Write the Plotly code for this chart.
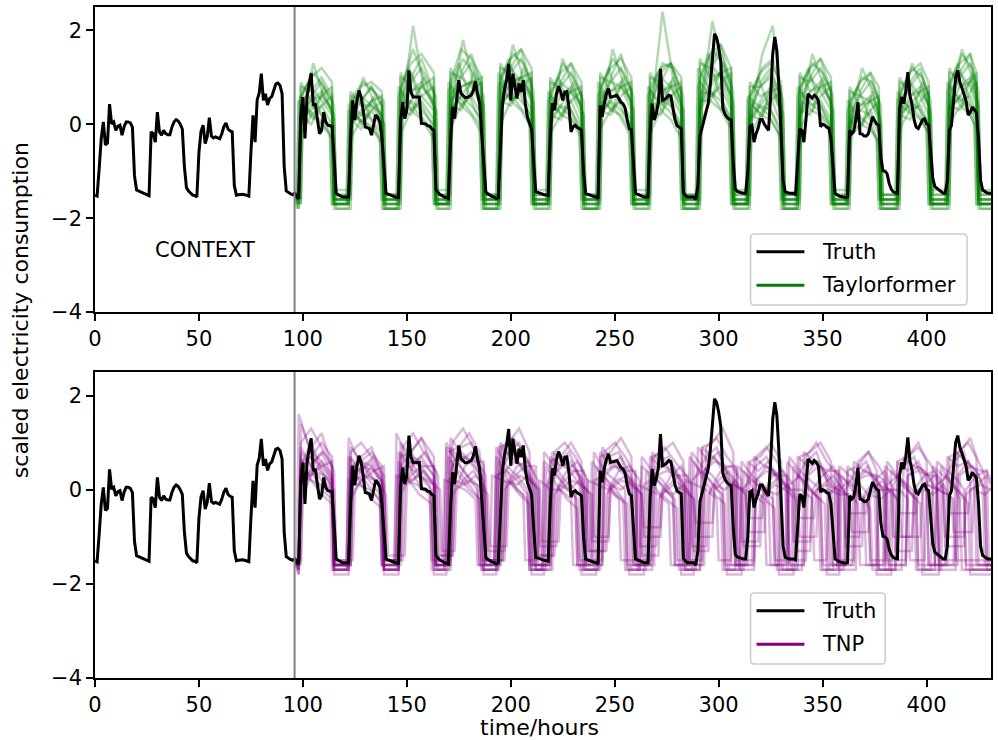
import plotly.graph_objects as go

# ---------------- data ----------------
hours = list(range(432))

truth_by_day = [
    [-1.51,-1.53,-0.95,-0.30,0.05,-0.44,-0.40,0.43,0.01,0.05,-0.13,-0.04,-0.02,-0.23,-0.05,0.05,0.05,0.03,-0.06,-1.10,-1.40,-1.42,-1.45,-1.47],
    [-1.48,-1.50,-1.52,-0.16,-0.20,-0.38,0.26,-0.16,-0.23,-0.13,-0.20,-0.22,-0.22,-0.06,0.05,0.10,0.07,0.00,-0.10,-0.90,-1.35,-1.42,-1.46,-1.51],
    [-1.52,-1.55,-0.60,-0.15,-0.02,-0.41,-0.26,0.14,-0.25,-0.29,-0.27,-0.29,-0.31,-0.20,-0.05,0.03,-0.10,-0.14,-0.16,-1.30,-1.51,-1.50,-1.49,-1.49],
    [-1.50,-1.52,-1.53,-0.60,0.19,-0.38,0.52,0.67,1.08,0.51,0.65,0.41,0.55,0.59,0.75,0.86,0.88,0.83,0.65,-0.90,-1.42,-1.46,-1.48,-1.50],
    [-1.47,-1.55,-1.58,0.20,0.58,-0.30,0.58,0.87,1.09,0.40,0.44,0.10,-0.20,-0.13,0.26,0.05,-0.02,-0.03,-0.04,-0.70,-1.47,-1.50,-1.53,-1.55],
    [-1.55,-1.55,-1.55,-0.30,0.51,0.09,0.51,0.72,0.58,0.30,-0.06,-0.07,-0.09,-0.23,0.02,0.20,0.15,0.05,-0.30,-0.90,-1.47,-1.49,-1.51,-1.53],
    [-1.55,-1.56,-1.56,0.05,0.47,0.12,0.30,1.15,0.69,0.58,0.58,0.58,0.58,0.02,0.01,0.01,-0.03,-0.04,-0.10,-0.13,-1.40,-1.45,-1.50,-1.52],
    [-1.55,-1.56,-1.58,-0.40,0.37,0.12,0.60,0.94,0.66,0.62,0.57,0.57,0.59,0.62,0.72,0.92,0.65,0.45,-0.20,-0.80,-1.44,-1.48,-1.52,-1.54],
    [-1.55,-1.58,-1.56,-0.50,0.40,0.75,0.95,1.29,0.51,1.08,0.79,0.55,0.87,0.69,0.94,0.44,0.15,0.01,-0.10,-0.80,-1.44,-1.45,-1.47,-1.49],
    [-1.50,-1.51,-1.52,-0.30,0.45,0.30,0.65,0.81,0.70,0.51,0.69,0.70,0.35,-0.16,-0.05,-0.02,-0.07,-0.09,-0.13,-1.00,-1.47,-1.49,-1.51,-1.52],
    [-1.54,-1.55,-1.58,0.40,0.16,0.45,0.65,0.76,0.58,0.59,0.60,0.62,0.55,0.47,0.44,0.35,0.10,-0.09,-0.12,-0.70,-1.47,-1.49,-1.51,-1.53],
    [-1.55,-1.55,-1.55,-0.20,0.44,0.09,0.23,0.47,1.18,0.51,0.53,0.57,0.62,0.60,0.35,0.10,-0.03,-0.06,-0.09,-1.45,-1.52,-1.55,-1.55,-1.55],
    [-1.55,-1.60,-1.30,-0.25,-0.08,0.10,0.28,0.45,0.85,1.50,1.93,1.85,1.65,1.35,0.35,0.22,0.15,0.11,0.09,-0.80,-1.38,-1.43,-1.45,-1.46],
    [-1.47,-1.47,-1.00,-0.05,-0.02,-0.38,-0.20,-0.08,0.10,0.10,0.00,-0.08,-0.13,0.60,1.50,1.86,1.57,0.79,-0.10,-1.20,-1.44,-1.46,-1.47,-1.47],
    [-1.47,-1.49,-0.90,-0.10,-0.13,-0.38,0.10,0.65,0.60,0.56,0.62,0.58,0.50,-0.05,0.00,-0.02,-0.06,-0.08,-0.30,-1.00,-1.47,-1.50,-1.53,-1.54],
    [-1.55,-1.56,-1.55,-0.13,-0.20,-0.15,0.10,0.47,-0.20,-0.21,-0.25,-0.25,-0.20,-0.03,0.16,0.08,0.01,-0.02,-0.70,-0.99,-1.00,-1.05,-1.26,-1.38],
    [-1.44,-1.46,-1.47,0.30,0.58,0.44,0.70,1.11,0.62,0.42,0.10,-0.06,-0.09,0.00,0.09,0.12,0.01,-0.02,-0.70,-1.15,-1.33,-1.37,-1.40,-1.44],
    [-1.47,-1.47,-1.20,-0.13,-0.02,0.50,1.00,1.15,0.90,0.78,0.62,0.50,0.20,0.25,0.37,0.32,0.25,-0.30,-1.20,-1.40,-1.44,-1.46,-1.47,-1.47],
]
truth = [v for day in truth_by_day for v in day]

context_end = 96

# first / last "high" hour of each forecast day
day_rise = [99, 123, 147, 171, 195, 219, 243, 267, 291, 315, 339, 363, 387, 411]
day_fall = [114, 138, 163, 186, 210, 234, 258, 282, 306, 330, 354, 377, 401, 424]

# Taylorformer samples: per forecast day -> night low, then levels at rise, +5h, +10h, last high hour
tf_samples = [
    [-1.6,0.4,0.8,0.5,0.2, -1.7,0.3,0.6,0.4,0.1, -1.6,0.5,1.1,0.6,0.3, -1.7,0.6,1.0,0.8,0.4, -1.6,0.7,1.2,0.9,0.5, -1.7,0.3,0.9,0.7,0.2, -1.6,0.5,0.9,0.8,0.3, -1.7,0.4,1.0,0.8,0.3, -1.6,0.6,1.3,1.0,0.4, -1.7,0.3,0.8,1.0,0.2, -1.6,0.5,1.0,0.7,0.3, -1.7,0.2,0.6,0.5,0.1, -1.6,0.4,0.9,0.6,0.2, -1.7,0.6,1.1,0.8,0.4],
    [-1.5,0.1,0.4,0.2,-0.1, -1.6,0.0,0.3,0.1,-0.2, -1.7,0.2,0.5,0.3,0.0, -1.6,0.3,0.6,0.4,0.1, -1.7,0.4,0.7,0.5,0.2, -1.6,0.0,0.4,0.3,-0.1, -1.7,0.2,0.5,0.3,0.0, -1.6,0.1,0.5,0.4,0.0, -1.7,0.3,0.7,0.5,0.1, -1.6,0.0,0.4,0.3,-0.1, -1.7,0.2,0.6,0.4,0.0, -1.6,-0.1,0.3,0.2,-0.2, -1.7,0.1,0.5,0.3,0.0, -1.6,0.3,0.6,0.4,0.1],
    [-1.7,0.7,1.1,0.8,0.4, -1.6,0.6,0.9,0.7,0.5, -1.8,0.9,1.6,1.0,0.6, -1.7,0.8,1.4,1.1,0.6, -1.8,1.0,1.5,1.3,0.7, -1.7,0.7,1.3,1.0,0.5, -1.8,0.8,1.4,1.1,0.6, -1.7,0.7,1.3,1.2,0.6, -1.8,0.9,1.6,1.3,0.7, -1.7,0.6,1.2,1.4,0.5, -1.8,0.8,1.3,1.1,0.6, -1.7,0.5,1.0,0.9,0.4, -1.8,0.7,1.2,1.0,0.5, -1.7,0.9,1.5,1.2,0.7],
    [-1.6,0.2,0.5,0.7,0.3, -1.5,0.4,0.2,0.5,0.2, -1.6,0.3,0.7,0.9,0.4, -1.5,0.5,0.8,0.9,0.5, -1.6,0.5,0.9,1.0,0.6, -1.5,0.2,0.6,0.8,0.4, -1.6,0.3,0.7,0.9,0.5, -1.5,0.2,0.6,0.9,0.5, -1.6,0.4,0.9,1.1,0.6, -1.5,0.1,0.5,0.8,0.4, -1.6,0.3,0.7,0.9,0.5, -1.5,0.0,0.4,0.6,0.3, -1.6,0.2,0.6,0.8,0.4, -1.5,0.4,0.8,1.0,0.6],
    [-1.8,0.5,0.3,0.1,-0.2, -1.7,0.3,0.1,0.0,-0.3, -1.8,0.8,0.5,0.2,-0.1, -1.7,0.9,0.6,0.3,0.0, -1.8,1.1,0.7,0.4,0.1, -1.7,0.7,0.4,0.2,-0.1, -1.8,0.9,0.5,0.2,-0.2, -1.7,0.8,0.5,0.3,0.0, -1.8,1.2,0.8,0.4,0.1, -1.7,0.6,0.4,0.2,-0.2, -1.8,0.8,0.5,0.3,0.0, -1.7,0.5,0.2,0.0,-0.3, -1.8,0.7,0.4,0.2,-0.1, -1.7,0.9,0.6,0.3,0.0],
    [-1.6,0.0,0.6,0.9,0.5, -1.7,0.1,0.5,0.8,0.4, -1.6,0.2,1.0,1.4,0.7, -1.7,0.3,1.1,1.5,0.8, -1.6,0.4,1.2,1.6,0.8, -1.7,0.1,0.9,1.3,0.6, -1.6,0.2,1.0,1.5,0.7, -1.7,0.3,1.1,1.3,0.6, -1.6,0.4,1.2,1.7,0.8, -1.7,0.1,0.9,1.2,0.5, -1.6,0.2,1.0,1.4,0.7, -1.7,0.0,0.7,1.1,0.5, -1.6,0.2,0.9,1.2,0.6, -1.7,0.3,1.1,1.5,0.8],
    [-1.5,0.6,0.2,0.4,0.0, -1.6,0.5,0.0,0.3,-0.1, -1.5,0.7,0.3,0.5,0.1, -1.6,0.8,0.4,0.6,0.2, -1.5,0.9,0.5,0.7,0.3, -1.6,0.6,0.2,0.5,0.0, -1.5,0.7,0.3,0.5,0.1, -1.6,0.7,0.4,0.6,0.2, -1.5,0.9,0.6,0.8,0.3, -1.6,0.5,0.2,0.6,0.0, -1.5,0.7,0.4,0.5,0.1, -1.6,0.4,0.0,0.3,-0.1, -1.5,0.6,0.3,0.4,0.0, -1.6,0.8,0.5,0.6,0.2],
    [-1.7,0.3,1.3,0.6,0.2, -1.8,0.2,1.0,0.5,0.0, -1.7,0.4,2.1,0.8,0.3, -1.8,0.5,1.8,0.9,0.4, -1.7,0.6,1.7,1.0,0.4, -1.8,0.3,1.4,0.8,0.2, -1.7,0.4,1.6,0.9,0.3, -1.8,0.4,2.4,1.0,0.3, -1.7,0.6,2.2,1.1,0.4, -1.8,0.3,1.5,2.1,0.2, -1.7,0.4,1.5,0.9,0.3, -1.8,0.2,1.2,0.7,0.1, -1.7,0.4,1.3,0.8,0.3, -1.8,0.5,1.6,1.0,0.4],
    [-1.5,-0.2,0.2,0.0,-0.3, -1.6,-0.3,0.1,-0.1,-0.4, -1.5,-0.2,0.3,0.1,-0.3, -1.6,-0.1,0.4,0.2,-0.2, -1.5,0.0,0.5,0.3,-0.1, -1.6,-0.2,0.2,0.1,-0.3, -1.5,-0.1,0.3,0.2,-0.2, -1.6,-0.2,0.3,0.1,-0.3, -1.5,0.0,0.5,0.3,-0.1, -1.6,-0.3,0.2,0.1,-0.3, -1.5,-0.1,0.3,0.2,-0.2, -1.6,-0.3,0.0,-0.1,-0.4, -1.5,-0.1,0.3,0.1,-0.2, -1.6,0.0,0.4,0.2,-0.1],
    [-1.7,0.8,0.7,1.0,0.6, -1.6,0.6,0.5,0.8,0.4, -1.7,1.0,0.9,1.2,0.7, -1.6,1.1,1.0,1.3,0.8, -1.7,1.2,1.1,1.4,0.9, -1.6,0.9,0.8,1.1,0.6, -1.7,1.0,0.9,1.2,0.7, -1.6,1.0,0.9,1.3,0.7, -1.7,1.3,1.2,1.5,0.9, -1.6,0.8,0.8,1.1,0.6, -1.7,1.0,0.9,1.2,0.7, -1.6,0.7,0.6,0.9,0.5, -1.7,0.9,0.8,1.1,0.6, -1.6,1.1,1.0,1.3,0.8],
    [-1.6,0.5,0.9,0.3,-0.2, -1.7,0.4,0.7,0.2,-0.3, -1.6,0.6,1.2,0.5,0.0, -1.7,0.7,1.3,0.6,0.1, -1.6,0.8,1.4,0.7,0.2, -1.7,0.5,1.0,0.4,-0.1, -1.6,0.6,1.2,0.5,0.0, -1.7,0.6,1.1,0.5,0.0, -1.6,0.8,1.5,0.7,0.2, -1.7,0.5,1.0,0.4,-0.1, -1.6,0.6,1.2,0.5,0.0, -1.7,0.3,0.8,0.2,-0.3, -1.6,0.5,1.0,0.4,-0.1, -1.7,0.7,1.3,0.6,0.1],
    [-1.8,0.1,0.3,0.6,0.8, -1.7,0.0,0.2,0.5,0.6, -1.8,0.2,0.5,0.8,1.0, -1.7,0.3,0.6,0.9,1.0, -1.8,0.4,0.7,1.0,1.1, -1.7,0.1,0.4,0.7,0.8, -1.8,0.2,0.5,0.8,0.9, -1.7,0.2,0.5,0.8,0.9, -1.8,0.4,0.8,1.1,1.2, -1.7,0.1,0.4,0.7,0.8, -1.8,0.2,0.5,0.8,0.9, -1.7,0.0,0.3,0.5,0.6, -1.8,0.2,0.4,0.7,0.8, -1.7,0.3,0.6,0.9,1.1],
    [-1.5,0.9,0.5,0.6,0.3, -1.4,0.7,0.4,0.4,0.2, -1.5,1.1,0.7,0.8,0.5, -1.4,1.2,0.8,0.9,0.5, -1.5,1.3,0.9,1.0,0.6, -1.4,1.0,0.6,0.7,0.4, -1.5,1.1,0.7,0.8,0.5, -1.4,1.1,0.7,0.8,0.4, -1.5,1.4,1.0,1.1,0.6, -1.4,0.9,0.6,0.7,0.3, -1.5,1.1,0.7,0.8,0.5, -1.4,0.8,0.4,0.5,0.2, -1.5,1.0,0.6,0.7,0.4, -1.4,1.2,0.8,0.9,0.5],
    [-1.7,0.2,0.0,0.4,0.6, -1.8,0.1,-0.1,0.3,0.5, -1.7,0.3,0.2,0.6,0.8, -1.8,0.4,0.3,0.7,0.9, -1.7,0.5,0.4,0.8,1.0, -1.8,0.2,0.1,0.5,0.7, -1.7,0.3,0.2,0.6,0.8, -1.8,0.3,0.2,0.6,0.8, -1.7,0.5,0.5,0.9,1.1, -1.8,0.2,0.1,0.5,0.7, -1.7,0.3,0.2,0.6,0.8, -1.8,0.1,-0.1,0.3,0.5, -1.7,0.2,0.1,0.5,0.7, -1.8,0.4,0.3,0.7,0.9],
    [-1.6,0.4,0.1,0.8,0.1, -1.5,0.3,0.0,0.6,0.0, -1.6,0.5,0.3,1.0,0.3, -1.5,0.6,0.4,1.1,0.4, -1.6,0.7,0.5,1.2,0.5, -1.5,0.4,0.2,0.9,0.2, -1.6,0.5,0.3,1.0,0.3, -1.5,0.5,0.3,1.0,0.3, -1.6,0.7,0.6,1.3,0.5, -1.5,0.4,0.2,0.9,0.2, -1.6,0.5,0.3,1.0,0.3, -1.5,0.2,0.0,0.7,0.0, -1.6,0.4,0.2,0.9,0.2, -1.5,0.6,0.4,1.1,0.4],
    [-1.8,0.6,1.0,1.2,0.9, -1.7,0.4,0.8,0.9,0.7, -1.8,0.8,1.3,1.5,1.1, -1.7,0.9,1.6,1.4,1.0, -1.8,1.0,1.4,1.6,1.2, -1.7,0.7,1.1,1.3,0.9, -1.8,0.8,1.2,1.4,1.0, -1.7,0.8,1.2,1.3,1.0, -1.8,1.0,1.5,1.7,1.2, -1.7,0.6,1.1,1.3,0.9, -1.8,0.8,1.2,1.4,1.0, -1.7,0.5,0.9,1.1,0.8, -1.8,0.7,1.1,1.3,0.9, -1.7,0.9,1.3,1.5,1.1],
]
tf_offsets = [0, 0, 1, 0, -1, 0, 0, 1, 0, 0, -1, 0, 0, 0, 1, 0]

# TNP samples: per-day timing drift (hours) and per-day levels
tnp_shifts = [
    [0,0,0,1,1,1,2,2,2,3,3,3,4,4],
    [0,0,-1,-1,-2,-2,-3,-3,-4,-4,-5,-5,-6,-6],
    [0,0,0,0,0,1,1,1,1,2,2,2,2,3],
    [1,1,2,2,3,3,4,5,5,6,6,7,7,8],
    [0,-1,-1,-2,-2,-3,-4,-4,-5,-6,-6,-7,-7,-8],
    [0,0,0,0,-1,-1,-1,-1,-2,-2,-2,-2,-3,-3],
    [0,1,1,2,3,4,5,6,7,8,9,10,11,12],
    [0,0,1,1,1,2,2,2,3,3,3,4,4,4],
    [0,-1,-2,-3,-4,-5,-6,-6,-7,-8,-9,-10,-10,-11],
    [0,0,0,-1,-1,0,0,1,1,0,0,-1,-1,0],
    [1,2,3,3,4,5,5,6,7,7,8,9,9,10],
    [0,0,-1,-1,-1,-2,-2,-2,-3,-3,-3,-4,-4,-4],
    [0,1,0,1,2,1,2,3,2,3,4,3,4,5],
    [-1,-1,-2,-2,-2,-3,-3,-4,-4,-4,-5,-5,-6,-6],
    [0,0,0,1,2,2,3,4,4,5,6,6,7,8],
    [0,0,0,0,0,0,0,0,-1,-1,-1,-1,-1,-1],
]
tnp_samples = [
    [-1.6,0.5,1.0,0.4,0.1, -1.6,0.4,0.6,0.3,0.0, -1.7,0.5,0.8,0.4,0.1, -1.6,0.6,0.7,0.5,0.2, -1.6,0.5,0.8,0.4,0.1, -1.7,0.3,0.6,0.3,0.0, -1.6,0.4,0.5,0.3,0.0, -1.5,0.3,0.6,0.2,0.0, -1.6,0.4,0.7,0.3,0.1, -1.5,0.2,0.5,0.3,0.0, -1.6,0.3,0.6,0.2,0.0, -1.5,0.2,0.4,0.2,-0.1, -1.6,0.3,0.5,0.3,0.0, -1.5,0.3,0.6,0.3,0.0],
    [-1.5,0.2,0.4,0.0,-0.2, -1.6,0.1,0.3,0.0,-0.3, -1.5,0.3,0.5,0.1,-0.1, -1.6,0.2,0.4,0.1,-0.2, -1.5,0.3,0.4,0.0,-0.2, -1.6,0.1,0.3,0.0,-0.2, -1.5,0.2,0.3,-0.1,-0.3, -1.6,0.1,0.3,0.0,-0.2, -1.5,0.2,0.4,0.1,-0.1, -1.6,0.0,0.2,0.0,-0.2, -1.5,0.1,0.3,0.0,-0.2, -1.6,0.0,0.2,-0.1,-0.3, -1.5,0.1,0.3,0.0,-0.2, -1.6,0.1,0.3,0.0,-0.2],
    [-1.7,1.4,0.8,0.6,0.3, -1.6,0.9,0.6,0.5,0.2, -1.7,1.0,0.7,0.6,0.3, -1.6,1.1,0.8,0.6,0.3, -1.7,0.9,0.7,0.5,0.2, -1.6,0.8,0.6,0.5,0.2, -1.7,0.9,0.6,0.4,0.2, -1.6,0.8,0.5,0.4,0.1, -1.7,0.9,0.7,0.5,0.2, -1.6,0.7,0.5,0.4,0.1, -1.7,0.8,0.6,0.4,0.1, -1.6,0.6,0.4,0.3,0.0, -1.7,0.7,0.5,0.4,0.1, -1.6,0.8,0.6,0.4,0.1],
    [-1.5,0.0,0.6,0.8,0.4, -1.6,0.1,0.5,0.7,0.3, -1.5,0.1,0.6,0.8,0.3, -1.4,0.0,0.5,0.7,0.3, -1.5,0.1,0.5,0.6,0.2, -1.4,0.0,0.4,0.6,0.2, -1.3,0.0,0.4,0.5,0.2, -1.4,-0.1,0.3,0.5,0.1, -1.3,0.0,0.4,0.5,0.2, -1.2,-0.1,0.3,0.4,0.1, -1.3,0.0,0.3,0.5,0.1, -1.2,-0.1,0.2,0.4,0.0, -1.3,0.0,0.3,0.4,0.1, -1.2,0.0,0.3,0.4,0.1],
    [-1.6,0.8,0.5,0.2,0.0, -1.7,0.7,0.4,0.2,-0.1, -1.6,0.8,0.5,0.3,0.0, -1.7,0.9,0.6,0.3,0.0, -1.6,0.7,0.4,0.2,-0.1, -1.7,0.6,0.4,0.1,-0.1, -1.6,0.6,0.3,0.1,-0.2, -1.7,0.5,0.3,0.1,-0.2, -1.6,0.7,0.4,0.2,-0.1, -1.7,0.5,0.3,0.1,-0.2, -1.6,0.6,0.3,0.1,-0.2, -1.7,0.4,0.2,0.0,-0.3, -1.6,0.5,0.3,0.1,-0.2, -1.7,0.5,0.3,0.1,-0.2],
    [-1.8,0.3,0.9,1.2,0.5, -1.7,0.2,0.7,0.9,0.3, -1.8,0.3,0.8,1.1,0.4, -1.7,0.4,0.9,1.0,0.4, -1.8,0.3,0.8,1.0,0.3, -1.7,0.2,0.6,0.8,0.3, -1.8,0.2,0.7,0.8,0.2, -1.7,0.1,0.6,0.7,0.2, -1.8,0.3,0.7,0.9,0.3, -1.7,0.1,0.5,0.7,0.2, -1.8,0.2,0.6,0.8,0.2, -1.7,0.0,0.4,0.6,0.1, -1.8,0.1,0.5,0.7,0.2, -1.7,0.2,0.6,0.8,0.2],
    [-1.5,0.4,0.3,0.5,0.2, -1.6,0.3,0.2,0.4,0.1, -1.5,0.3,0.2,0.4,0.1, -1.4,0.2,0.1,0.3,0.0, -1.3,0.2,0.1,0.3,0.0, -1.2,0.1,0.0,0.2,-0.1, -1.1,0.1,0.0,0.2,-0.1, -1.0,0.0,-0.1,0.1,-0.2, -1.0,0.1,0.0,0.2,-0.1, -0.9,0.0,-0.1,0.1,-0.2, -1.0,0.0,-0.1,0.1,-0.2, -0.9,-0.1,-0.2,0.0,-0.3, -1.0,0.0,-0.1,0.1,-0.2, -0.9,0.0,-0.1,0.1,-0.2],
    [-1.6,1.0,1.3,0.9,0.5, -1.7,0.8,1.0,0.7,0.3, -1.6,0.9,1.2,0.8,0.4, -1.7,1.0,1.3,0.9,0.5, -1.6,0.9,1.1,0.8,0.4, -1.7,0.8,1.0,0.7,0.3, -1.6,0.8,1.0,0.7,0.3, -1.7,0.7,0.9,0.6,0.3, -1.6,0.9,1.1,0.7,0.4, -1.7,0.7,0.9,0.6,0.2, -1.6,0.7,1.0,0.6,0.3, -1.7,0.6,0.8,0.5,0.2, -1.6,0.7,0.9,0.6,0.3, -1.7,0.8,1.0,0.6,0.3],
    [-1.5,0.3,0.2,0.1,-0.1, -1.5,0.2,0.1,0.0,-0.2, -1.6,0.3,0.2,0.1,-0.1, -1.5,0.2,0.1,0.0,-0.2, -1.6,0.3,0.2,0.1,-0.1, -1.5,0.2,0.0,0.0,-0.2, -1.6,0.2,0.1,0.0,-0.2, -1.5,0.1,0.0,-0.1,-0.3, -1.6,0.2,0.1,0.0,-0.2, -1.5,0.1,0.0,-0.1,-0.3, -1.6,0.2,0.0,0.0,-0.2, -1.5,0.0,-0.1,-0.1,-0.3, -1.6,0.1,0.0,0.0,-0.2, -1.5,0.1,0.0,-0.1,-0.2],
    [-1.7,0.6,0.7,1.0,0.7, -1.6,0.5,0.6,0.8,0.5, -1.7,0.7,0.8,1.1,0.7, -1.6,0.8,0.9,1.2,0.8, -1.7,0.9,1.0,1.3,0.8, -1.6,0.6,0.7,1.0,0.6, -1.7,0.7,0.8,1.1,0.7, -1.6,0.7,0.8,1.0,0.6, -1.7,0.9,1.0,1.3,0.8, -1.6,0.6,0.7,1.0,0.6, -1.7,0.7,0.8,1.0,0.6, -1.6,0.4,0.5,0.8,0.4, -1.7,0.6,0.7,1.0,0.6, -1.6,0.7,0.8,1.1,0.7],
    [-1.6,0.1,0.4,0.3,0.0, -1.5,0.0,0.3,0.2,-0.1, -1.4,0.1,0.3,0.2,0.0, -1.3,0.0,0.2,0.1,-0.1, -1.2,0.1,0.3,0.2,0.0, -1.1,0.0,0.2,0.1,-0.1, -1.0,0.0,0.2,0.1,-0.1, -0.8,-0.1,0.1,0.0,-0.2, -0.7,0.0,0.2,0.1,-0.1, -0.6,-0.1,0.1,0.0,-0.2, -0.6,0.0,0.1,0.0,-0.1, -0.5,-0.1,0.0,0.0,-0.2, -0.5,0.0,0.1,0.0,-0.1, -0.5,0.0,0.1,0.0,-0.1],
    [-1.7,0.7,0.2,-0.1,-0.3, -1.8,0.5,0.1,-0.2,-0.4, -1.7,0.6,0.2,-0.1,-0.3, -1.8,0.7,0.3,0.0,-0.2, -1.7,0.6,0.2,-0.1,-0.3, -1.8,0.5,0.1,-0.2,-0.4, -1.7,0.5,0.1,-0.1,-0.3, -1.8,0.4,0.0,-0.2,-0.4, -1.7,0.6,0.2,-0.1,-0.3, -1.8,0.4,0.0,-0.2,-0.4, -1.7,0.5,0.1,-0.1,-0.3, -1.8,0.3,0.0,-0.2,-0.4, -1.7,0.4,0.1,-0.1,-0.3, -1.8,0.5,0.1,-0.1,-0.3],
    [-1.5,0.4,0.7,0.5,0.6, -1.6,0.3,0.5,0.4,0.5, -1.5,0.4,0.6,0.5,0.5, -1.6,0.5,0.7,0.6,0.6, -1.5,0.4,0.6,0.5,0.5, -1.6,0.3,0.5,0.4,0.4, -1.5,0.3,0.5,0.4,0.4, -1.6,0.3,0.4,0.3,0.3, -1.5,0.4,0.6,0.5,0.5, -1.6,0.2,0.4,0.3,0.3, -1.5,0.3,0.5,0.4,0.4, -1.6,0.2,0.3,0.3,0.2, -1.5,0.3,0.4,0.3,0.3, -1.6,0.3,0.5,0.4,0.4],
    [-1.6,1.6,0.9,0.4,0.2, -1.7,1.1,0.6,0.3,0.1, -1.6,1.2,0.7,0.4,0.1, -1.7,1.0,0.6,0.3,0.1, -1.6,0.9,0.5,0.3,0.0, -1.7,0.8,0.5,0.2,0.0, -1.6,0.8,0.4,0.2,0.0, -1.7,0.7,0.4,0.2,-0.1, -1.6,0.8,0.5,0.3,0.0, -1.7,0.6,0.3,0.1,-0.1, -1.6,0.7,0.4,0.2,0.0, -1.7,0.5,0.3,0.1,-0.1, -1.6,0.6,0.3,0.1,-0.1, -1.7,0.6,0.4,0.2,0.0],
    [-1.8,-0.2,0.3,0.6,0.2, -1.7,-0.2,0.2,0.5,0.1, -1.6,-0.1,0.3,0.5,0.1, -1.5,-0.1,0.2,0.4,0.1, -1.5,0.0,0.3,0.5,0.1, -1.4,-0.1,0.2,0.4,0.0, -1.3,-0.1,0.2,0.3,0.0, -1.2,-0.2,0.1,0.3,-0.1, -1.2,-0.1,0.2,0.4,0.0, -1.1,-0.2,0.1,0.3,-0.1, -1.1,-0.1,0.1,0.3,0.0, -1.0,-0.2,0.0,0.2,-0.1, -1.0,-0.1,0.1,0.3,0.0, -1.0,-0.1,0.1,0.3,0.0],
    [-1.6,0.9,0.5,0.8,0.3, -1.6,0.7,0.4,0.6,0.2, -1.7,0.8,0.5,0.7,0.3, -1.6,0.9,0.6,0.8,0.3, -1.7,1.0,0.7,0.9,0.4, -1.6,0.7,0.5,0.6,0.2, -1.7,0.8,0.5,0.7,0.3, -1.6,0.7,0.5,0.6,0.2, -1.7,0.9,0.6,0.8,0.3, -1.6,0.6,0.4,0.6,0.2, -1.7,0.7,0.5,0.6,0.2, -1.6,0.5,0.3,0.5,0.1, -1.7,0.6,0.4,0.6,0.2, -1.6,0.7,0.5,0.6,0.2],
]

x_ticks = [0, 50, 100, 150, 200, 250, 300, 350, 400]
y_ticks = [-4, -2, 0, 2]
y_tick_text = ["\u22124", "\u22122", "0", "2"]

# ---------------- helpers ----------------
FONT = "DejaVu Sans"
FS = 21
FS_LABEL = 22
L, R, T, B = 95, 5, 7, 62
W, H = 998, 740
PW, PH = W - L - R, H - T - B


def px(x):
    return (x - L) / PW


def py(y):
    return (H - B - y) / PH


def sample_path(levels, shifts):
    xs, ys = [context_end], [truth[context_end]]
    prev_f = None
    for d in range(len(day_rise)):
        lo, a, b, c, e = levels[5 * d:5 * d + 5]
        s = shifts[d]
        r, f = day_rise[d] + s, day_fall[d] + s
        if prev_f is not None:
            xs.append(prev_f + 1)
            ys.append(lo)
        xs.append(r - 1)
        ys.append(lo)
        xs += [r, r + 5, r + 10, f]
        ys += [a, b, c, e]
        prev_f = f
    end_lo = levels[-5]
    xs += [prev_f + 1, max(prev_f + 2, hours[-1])]
    ys += [end_lo, end_lo]
    return xs, ys


fig = go.Figure()

GREEN = "rgba(0,128,0,0.30)"
PURPLE = "rgba(128,0,128,0.28)"

for i, lv in enumerate(tf_samples):
    xs, ys = sample_path(lv, [tf_offsets[i]] * len(day_rise))
    fig.add_trace(go.Scatter(x=xs, y=ys, mode="lines", line=dict(color=GREEN, width=2.5),
                             showlegend=False, hoverinfo="skip", xaxis="x", yaxis="y"))
fig.add_trace(go.Scatter(x=hours, y=truth, mode="lines", line=dict(color="black", width=3),
                         name="Truth", showlegend=False, xaxis="x", yaxis="y"))

for i, lv in enumerate(tnp_samples):
    xs, ys = sample_path(lv, tnp_shifts[i])
    fig.add_trace(go.Scatter(x=xs, y=ys, mode="lines", line=dict(color=PURPLE, width=2.5),
                             showlegend=False, hoverinfo="skip", xaxis="x2", yaxis="y2"))
fig.add_trace(go.Scatter(x=hours, y=truth, mode="lines", line=dict(color="black", width=3),
                         name="Truth", showlegend=False, xaxis="x2", yaxis="y2"))

axis_common = dict(showline=True, linecolor="black", linewidth=1.6, mirror=True,
                   ticks="outside", ticklen=7, tickwidth=1.6, tickcolor="black",
                   showgrid=False, zeroline=False,
                   tickfont=dict(family=FONT, size=FS, color="black"))

top_dom = [py(312), 1.0]
bot_dom = [0.0, py(372)]

fig.update_layout(
    width=W, height=H,
    margin=dict(l=L, r=R, t=T, b=B),
    paper_bgcolor="white", plot_bgcolor="white",
    showlegend=False,
    xaxis=dict(range=[0, 431], tickvals=x_ticks, anchor="y", domain=[0, 1], **axis_common),
    yaxis=dict(range=[-4, 2.5], tickvals=y_ticks, ticktext=y_tick_text, anchor="x", domain=top_dom, **axis_common),
    xaxis2=dict(range=[0, 431], tickvals=x_ticks, anchor="y2", domain=[0, 1], **axis_common),
    yaxis2=dict(range=[-4, 2.5], tickvals=y_ticks, ticktext=y_tick_text, anchor="x2", domain=bot_dom, **axis_common),
)

shapes = []
for yref in ["y domain", "y2 domain"]:
    xref = "x" if yref.startswith("y ") else "x2"
    shapes.append(dict(type="line", xref=xref, yref=yref, x0=context_end, x1=context_end, y0=0, y1=1,
                       line=dict(color="#808080", width=2), layer="above"))


def rounded_box(x0, y0, x1, y1, r=4):
    X0, X1 = px(x0), px(x1)
    Y0, Y1 = py(y1), py(y0)
    rx, ry = r / PW, r / PH
    p = (f"M {X0+rx},{Y0} L {X1-rx},{Y0} Q {X1},{Y0} {X1},{Y0+ry} "
         f"L {X1},{Y1-ry} Q {X1},{Y1} {X1-rx},{Y1} L {X0+rx},{Y1} "
         f"Q {X0},{Y1} {X0},{Y1-ry} L {X0},{Y0+ry} Q {X0},{Y0} {X0+rx},{Y0} Z")
    return dict(type="path", xref="paper", yref="paper", path=p,
                fillcolor="rgba(255,255,255,0.8)", line=dict(color="#cccccc", width=1.5), layer="above")


annotations = []


def legend(x0, x1, top, entries):
    shapes.append(rounded_box(x0, top, x1, top + 71))
    for k, (label, col) in enumerate(entries):
        yc = top + 17.7 + 33.5 * k
        shapes.append(dict(type="line", xref="paper", yref="paper", x0=px(758), x1=px(806),
                           y0=py(yc), y1=py(yc), line=dict(color=col, width=3), layer="above"))
        annotations.append(dict(text=label, xref="paper", yref="paper", x=px(822), y=py(yc),
                                xanchor="left", yanchor="middle", showarrow=False,
                                font=dict(family=FONT, size=FS, color="black")))


legend(752, 969, 234, [("Truth", "black"), ("Taylorformer", "green")])
legend(752, 887, 593, [("Truth", "black"), ("TNP", "purple")])

annotations.append(dict(text="CONTEXT", xref="paper", yref="paper", x=px(205), y=py(250),
                        xanchor="center", yanchor="middle", showarrow=False,
                        font=dict(family=FONT, size=FS, color="black")))
annotations.append(dict(text="scaled electricity consumption", xref="paper", yref="paper",
                        x=px(20), y=py(310), xanchor="center", yanchor="middle", textangle=-90,
                        showarrow=False, font=dict(family=FONT, size=FS_LABEL, color="black")))
annotations.append(dict(text="time/hours", xref="paper", yref="paper",
                        x=px(540), y=py(727), xanchor="center", yanchor="middle",
                        showarrow=False, font=dict(family=FONT, size=FS_LABEL, color="black")))

fig.update_layout(shapes=shapes, annotations=annotations)

fig.write_html("out.html", config={"displayModeBar": False},
               post_script="document.body.style.margin='0';document.body.style.overflow='hidden';")
